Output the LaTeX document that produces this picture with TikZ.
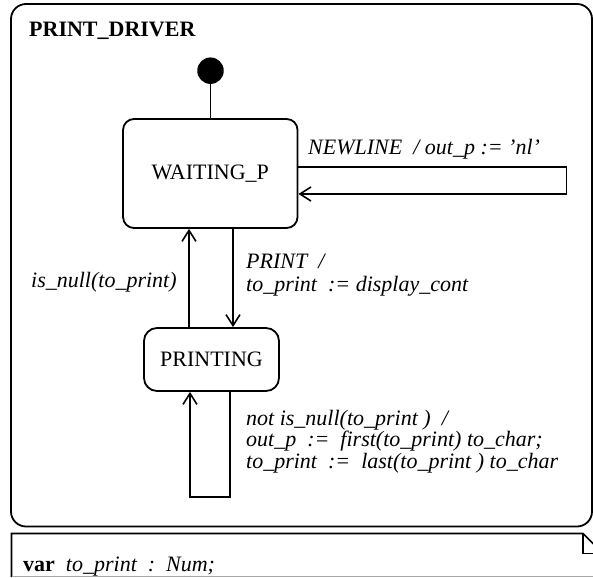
\documentclass[tikz,border=0pt]{standalone}
\usepackage{fontspec}
\setmainfont{Liberation Serif}
\usetikzlibrary{arrows.meta}
\tikzset{
  state/.style={draw, line width=1.8pt, rounded corners=11pt, inner sep=0pt},
  trans/.style={line width=1.8pt, -{Straight Barb[length=11pt,width=14pt,line width=1.6pt]}},
  wire/.style={line width=1.8pt},
  lbl/.style={anchor=base west, inner sep=0pt, font=\itshape\fontsize{22}{26}\selectfont},
}
\begin{document}
\begin{tikzpicture}[x=1pt, y=-1pt, font=\fontsize{22}{26}\selectfont]
\clip (0,0) rectangle (593,577);
\useasboundingbox (0,0) rectangle (593,577);

% enclosing superstate
\draw[wire, rounded corners=15pt] (11,4) rectangle (592,526.5);
\node[anchor=base west, inner sep=0pt, font=\fontsize{22}{26}\selectfont\bfseries] (title) at (29,37) {PRINT\_DRIVER};

% states
\node[circle, fill, minimum size=26.5pt, inner sep=0pt] (init) at (210.5,70.7) {};
\node[state, minimum width=174.5pt, minimum height=109pt] (wait) at (210.3,173.5) {WAITING\_P};
\node[state, rounded corners=13pt, minimum width=135pt, minimum height=63pt] (print) at (211.5,359.5) {PRINTING};

\coordinate (cl) at (189,0);
\coordinate (cr) at (233,0);
\coordinate (ll) at (190,0);
\coordinate (lr) at (230,0);

% initial transition
\draw[wire] (init) -- (init |- wait.north);

% WAITING_P self loop
\draw[trans] ([yshift=6.5pt]wait.east) -- (566.5,167) -- (566.5,194) -- ([yshift=-20.5pt]wait.east);
\node[lbl] (lnl) at (308,155) {NEWLINE\ \ / out\_p := 'nl'};

% WAITING_P <-> PRINTING
\draw[trans] (wait.south -| cr) -- (print.north -| cr);
\draw[trans] (print.north -| cl) -- (wait.south -| cl);
\node[lbl, align=left, font=\itshape\fontsize{22}{23}\selectfont] (lpr) at (246,291) {PRINT\ \ /\\to\_print\ \ :=\ display\_cont};
\node[lbl] (lnull) at (31,287) {is\_null(to\_print)};

% PRINTING self loop
\draw[trans] (print.south -| lr) -- (230,497) -- (190,497) -- (print.south -| ll);
\node[lbl, align=left, font=\itshape\fontsize{22}{21.3}\selectfont] (lloop) at (246,468)
  {not is\_null(to\_print\ )\ \ /\\out\_p\ \ :=\ \ first(to\_print) to\_char;\\to\_print\ \ :=\ \ last(to\_print\ ) to\_char};

% variable declaration note
\draw[wire, line width=1.6pt] (11.5,577) -- (11.5,533.5) -- (583,533.5) -- (603,553.5);
\draw[wire, line width=1.6pt] (583,533.5) -- (583,553.5) -- (603,553.5);
\draw[gray!70, line width=1pt] (11.5,576.5) -- (593,576.5);
\node[anchor=base west, inner sep=0pt] (decl) at (23,571.5) {\textbf{var}\ \ \textit{to\_print\ \ :\ \ Num;}};
\end{tikzpicture}
\end{document}
